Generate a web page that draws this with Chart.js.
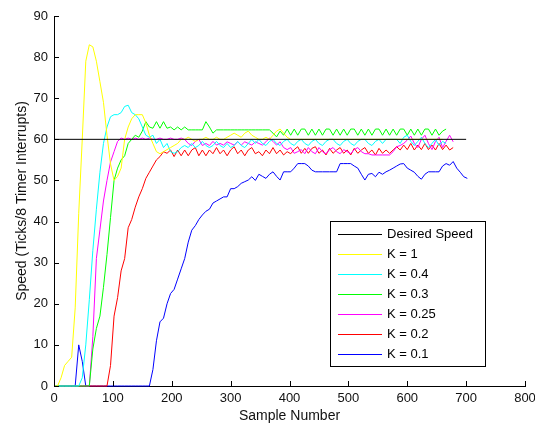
<!DOCTYPE html>
<html>
<head>
<meta charset="utf-8">
<script src="https://cdn.jsdelivr.net/npm/chart.js@4"></script>
<style>
html, body { margin: 0; padding: 0; background: #fff; }
</style>
</head>
<body>
<canvas id="speed" width="535" height="429"></canvas>
<script>
// sample grid shared by the K series (every 6 samples)
const samples = [];
for (let s = 0; s <= 702; s += 6) samples.push(s);

const desiredSamples = [0, 700];
const desiredSpeed = [60, 60];

const k1 = [
    0, 0, 2, 5, 6, 7, 19, 42, 60, 79,
    83, 82.5, 79, 74, 69, 61, 54, 50, 51, 53,
    60, 63, 65, 66, 66, 66, 64, 61, 59, 57,
    56.5, 57, 57.5, 58, 58.5, 59, 60, 60, 60.5, 60,
    59.5, 60, 60, 60.5, 60, 60, 60.5, 60, 60, 60.5,
    61, 61.5, 61, 60.5, 61.5, 62, 61, 60.5, 60, 60,
    60.5, 60, 61, 62, 62.5, 61.5, 60.5, 60, 60, 60,
    60, 60, 60, 60, 60, 60, 60, 60, 60, 60,
    60, 60, 60, 60, 60, 60, 60, 60, 60, 60,
    60, 60, 60, 60, 60, 60, 60, 60, 60, 60,
    60, 60, 60, 60, 60, 60, 60, 60, 60, 60,
    60
];

const k04 = [
    0, 0, 0, 0, 0, 0, 0, 0, 2, 10,
    21, 33, 43, 52, 59, 63, 65.5, 66, 66, 66.5,
    68, 68.3, 66.5, 66, 65, 63, 61, 60.5, 61, 59,
    60, 58, 59, 57, 56.6, 57, 58, 58.5, 58, 59,
    58, 58.5, 59.5, 58.5, 58, 58.5, 59.5, 58.5, 58, 59,
    58, 58.5, 59.5, 58.5, 58, 59, 60, 59, 60, 59,
    58.5, 59.5, 60, 59, 58.5, 59.5, 60, 59, 58.5, 59.5,
    60, 59, 58.5, 59.5, 60, 59, 58.5, 59.5, 60, 60,
    59, 58.5, 59.5, 60, 59, 58.5, 59.5, 60, 60, 59,
    58.5, 59.5, 60, 59, 60, 60, 60, 60, 59, 60.5,
    61, 59.5, 58.5, 59.5, 60.5, 59, 58, 59, 60, 58.5,
    59.5, 59
];

const k03 = [
    0, 0, 0, 0, 0, 0, 0, 0, 0, 0,
    0, 9, 14, 17, 24, 32, 41, 50, 53, 55,
    56, 59, 60, 61, 60.5, 62, 64.3, 63, 62.7, 64.3,
    62.7, 64.3, 62.7, 63, 62.3, 63, 62.3, 63, 62.3, 62.3,
    62.3, 62.3, 62.3, 64.3, 63, 61.5, 62.3, 62.3, 62.3, 62.3,
    62.3, 62.3, 62.3, 62.3, 62.3, 62.3, 62.3, 62.3, 62.3, 62.3,
    62.3, 62.3, 61.5, 60.6, 62, 61, 62.5, 61, 62.5, 61,
    62.5, 62.5, 61, 62.5, 61, 62.5, 61, 62.5, 62.5, 61,
    62.5, 61, 62.5, 61, 62.5, 62.5, 61, 62.5, 61, 62.5,
    61, 62.5, 62.5, 61, 62.5, 61, 62.5, 61, 62.5, 62.5,
    61, 62.5, 61, 62.5, 61, 62.5, 62.5, 61, 62.5, 61,
    62, 62.5
];

const k025 = [
    0, 0, 0, 0, 0, 0, 0, 0, 0, 0,
    0, 12, 31, 38, 45, 50, 54.5, 57, 59.5, 60.3,
    60, 60.3, 60, 60.3, 60, 60.3, 60, 60.3, 60, 60,
    60.3, 60, 60, 60.3, 60, 60, 60.3, 60, 59, 58.5,
    59.5, 60, 58.5, 59, 58.5, 59.5, 58.6, 59, 58.6, 59.4,
    59, 58.6, 59.4, 58.6, 59.4, 59, 58.6, 59.4, 59, 58.6,
    59.4, 60.3, 59.5, 58.6, 59.4, 58, 57.5, 58, 56.6, 57,
    57.5, 56.5, 58, 57, 56.5, 58, 57, 56.5, 57.5, 58,
    57, 56.5, 57.5, 57, 56.5, 57.5, 58, 57, 56.5, 56.5,
    56.2, 56.2, 56.2, 56.2, 56.2, 56.2, 57, 58.2, 58.5, 59,
    59.8, 60.8, 59, 58, 60, 61, 59, 57.5, 59.5, 60.5,
    58, 59.5, 61, 59.4
];

const k02 = [
    0, 0, 0, 0, 0, 0, 0, 0, 0, 0,
    0, 0, 0, 0, 0, 0, 5, 17, 21.5, 28,
    31, 38.5, 40.5, 43.5, 46, 48, 50.5, 52, 53.5, 55,
    55.8, 57, 56.6, 57.4, 55.8, 57.4, 56, 57.4, 56, 57.4,
    58, 56, 57.4, 56, 57.4, 56.5, 58, 56.5, 57.4, 56,
    57.4, 58.2, 56.5, 57.4, 56, 57.4, 58, 56.5, 57, 56,
    57.4, 56.5, 58, 56.5, 57.4, 56.2, 57, 56.5, 57.5, 58.2,
    56.6, 57.8, 56.6, 57.8, 58.2, 56.6, 57.4, 56.2, 57.8, 56.6,
    57.4, 58, 56.6, 57.4, 56.2, 57.8, 56.6, 57.4, 58, 56.6,
    57.4, 56.2, 57.8, 56.6, 57.4, 56.6, 57.4, 58.2, 57.4, 58.6,
    57.5, 59, 57.4, 58.6, 57.5, 59, 57.5, 58.6, 57.4, 59,
    57.5, 58.6, 57.4, 58
];

const k01 = [
    0, 0, 0, 0, 0, 0, 0, 10, 6, 0,
    0, 0, 0, 0, 0, 0, 0, 0, 0, 0,
    0, 0, 0, 0, 0, 0, 0, 0, 4, 11,
    15.6, 16.5, 20, 22.5, 23.5, 26, 28.5, 31, 35, 37.9,
    39, 40.5, 41.6, 42.5, 43, 44.5, 45, 45.5, 46, 46,
    48, 48, 48.5, 49.3, 49.7, 50.1, 50.9, 50, 51.5, 51,
    50.5, 51.5, 52.1, 51, 50.1, 52.1, 52.1, 52.1, 53, 54.1,
    54.1, 54.1, 53.5, 52.5, 52.1, 52.1, 52.1, 52.1, 52.1, 52.1,
    52.1, 54.1, 54.1, 54.1, 54.1, 53.5, 53, 51.5, 50.1, 51.5,
    51.7, 50.9, 52, 51.5, 52.1, 52.5, 53, 53.5, 54, 54.1,
    53, 52.5, 52, 51, 50.3, 51.5, 52.1, 52.1, 52.1, 52.1,
    53.5, 54.1, 53.7, 54.6, 53, 52, 50.9, 50.5
];

function toPoints(xs, ys) {
    return ys.map((v, i) => ({x: xs[i], y: v}));
}

function line(label, color, xs, ys) {
    return {
        label: label,
        data: toPoints(xs, ys),
        borderColor: color,
        backgroundColor: color,
        borderWidth: 1,
        pointRadius: 0,
        tension: 0,
        clip: 3,
    };
}

const fontName = "'Liberation Sans', Arial, sans-serif";

// MATLAB style ticks pointing into the plot
const innerTicks = {
    id: 'innerTicks',
    afterDraw(chart) {
        const c = chart.ctx;
        const xs = chart.scales.x;
        const ys = chart.scales.y;
        const area = chart.chartArea;
        c.save();
        c.strokeStyle = '#000';
        c.lineWidth = 1;
        c.beginPath();
        xs.ticks.forEach(t => {
            const px = Math.round(xs.getPixelForValue(t.value)) + 0.5;
            c.moveTo(px, area.bottom);
            c.lineTo(px, area.bottom - 5);
        });
        ys.ticks.forEach(t => {
            const py = Math.round(ys.getPixelForValue(t.value)) + 0.5;
            c.moveTo(area.left, py);
            c.lineTo(area.left + 5, py);
        });
        c.stroke();
        c.restore();
    }
};

// boxed legend inside the plot
const boxLegend = {
    id: 'boxLegend',
    afterDraw(chart) {
        const c = chart.ctx;
        c.save();
        c.fillStyle = '#fff';
        c.fillRect(330, 221, 156, 146);
        c.strokeStyle = '#000';
        c.lineWidth = 1;
        c.strokeRect(330.5, 221.5, 155, 145);
        c.font = '13px ' + fontName;
        c.textBaseline = 'middle';
        chart.data.datasets.forEach((ds, i) => {
            const y = 234.5 + i * 20;
            c.strokeStyle = ds.borderColor;
            c.beginPath();
            c.moveTo(338, y);
            c.lineTo(382, y);
            c.stroke();
            c.fillStyle = '#000';
            c.fillText(ds.label, 387, y);
        });
        c.restore();
    }
};

function fixWidth(w) {
    return function (scale) {
        scale.width = w;
        scale.paddingLeft = 0; scale.paddingRight = 0;
        scale.paddingTop = 0; scale.paddingBottom = 0;
    };
}
function fixHeight(h) {
    return function (scale) {
        scale.height = h;
        scale.paddingLeft = 0; scale.paddingRight = 0;
        scale.paddingTop = 0; scale.paddingBottom = 0;
    };
}

const ctx = document.getElementById('speed');

new Chart(ctx, {
    type: 'line',
    data: {
        datasets: [
            line('Desired Speed', '#000000', desiredSamples, desiredSpeed),
            line('K = 1', '#ffff00', samples, k1),
            line('K = 0.4', '#00ffff', samples, k04),
            line('K = 0.3', '#00ff00', samples, k03),
            line('K = 0.25', '#ff00ff', samples, k025),
            line('K = 0.2', '#ff0000', samples, k02),
            line('K = 0.1', '#0000ff', samples, k01),
        ]
    },
    options: {
        responsive: false,
        animation: false,
        layout: {padding: {top: 16, right: 10, left: 0, bottom: 0}},
        plugins: {
            legend: {display: false},
            tooltip: {enabled: false},
        },
        scales: {
            x: {
                type: 'linear',
                min: 0,
                max: 800,
                afterFit: fixHeight(43),
                ticks: {stepSize: 100, padding: 5, color: '#111', font: {family: fontName, size: 13}, maxRotation: 0},
                grid: {drawOnChartArea: false, drawTicks: false},
                border: {color: '#000'},
                title: {display: true, text: 'Sample Number', color: '#111', font: {family: fontName, size: 14}, padding: {top: 0, bottom: 4}},
            },
            y: {
                min: 0,
                max: 90,
                afterFit: fixWidth(54),
                ticks: {stepSize: 10, padding: 6, color: '#111', font: {family: fontName, size: 13}},
                grid: {drawOnChartArea: false, drawTicks: false},
                border: {color: '#000'},
                title: {display: true, text: 'Speed (Ticks/8 Timer Interrupts)', color: '#111', font: {family: fontName, size: 14}, padding: {top: 14, bottom: 0}},
            }
        }
    },
    plugins: [innerTicks, boxLegend]
});
</script>
</body>
</html>
